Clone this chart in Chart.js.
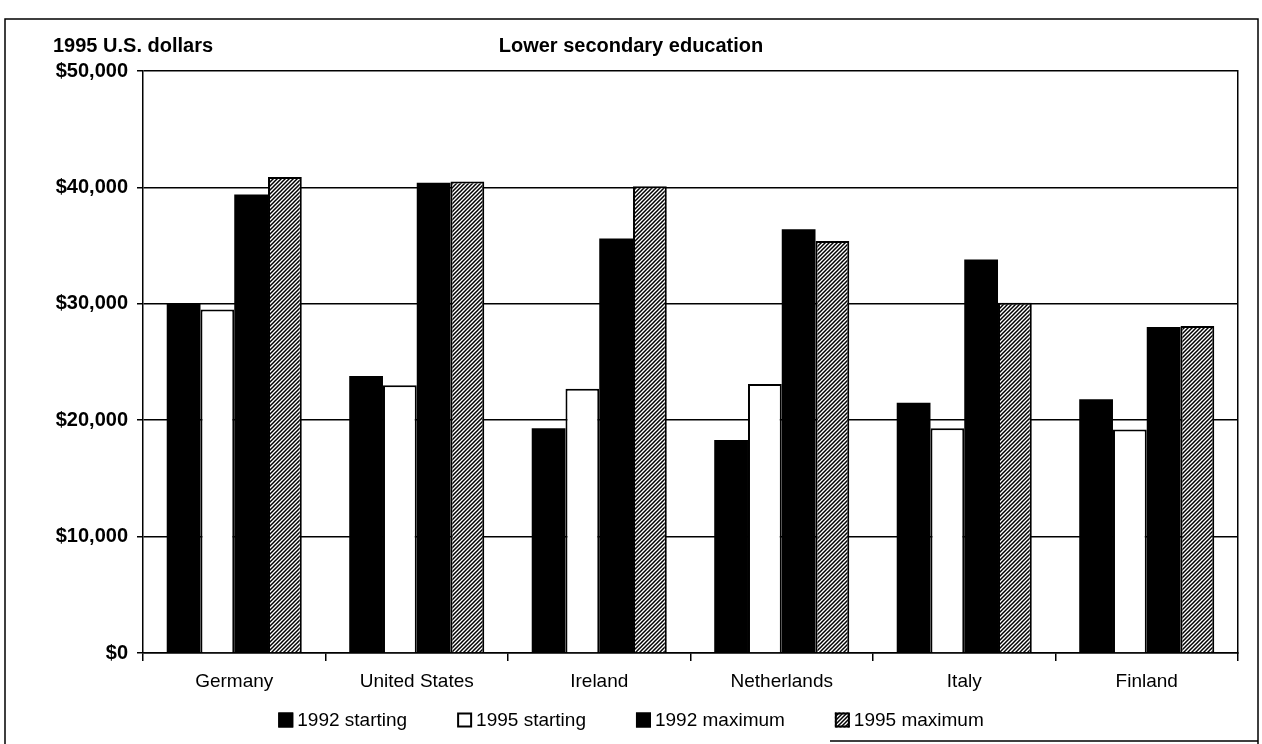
<!DOCTYPE html>
<html><head><meta charset="utf-8">
<script src="https://cdn.jsdelivr.net/npm/chart.js@4/dist/chart.umd.min.js"></script>
<style>html,body{margin:0;padding:0;background:#fff}#wrap{width:1262px;height:744px;position:relative}canvas{display:block}</style>
</head><body><div id="wrap"><canvas id="c" width="1262" height="744"></canvas></div>
<script>
const categories = ['Germany', 'United States', 'Ireland', 'Netherlands', 'Italy', 'Finland'];
const seriesNames = ['1992 starting', '1995 starting', '1992 maximum', '1995 maximum'];
const start1992 = [30000, 23800, 19300, 18300, 21500, 21800];
const start1995 = [29500, 23000, 22700, 23100, 19300, 19200];
const max1992 = [39400, 40400, 35600, 36400, 33800, 28000];
const max1995 = [40900, 40500, 40100, 35400, 30100, 28100];
const yMin = 0, yMax = 50000, yStep = 10000;
const unitLabel = '1995 U.S. dollars';
const chartTitle = 'Lower secondary education';

const FONT = '"Liberation Sans", Arial, Helvetica, sans-serif';

function makeHatch() {
  const s = 4;
  const c = document.createElement('canvas');
  c.width = s; c.height = s;
  const x = c.getContext('2d');
  x.fillStyle = '#fff'; x.fillRect(0, 0, s, s);
  x.strokeStyle = '#000'; x.lineWidth = 1.5;
  x.beginPath();
  x.moveTo(-1, s + 1); x.lineTo(s + 1, -1);
  x.moveTo(-s / 2 - 1, s / 2 + 1); x.lineTo(s / 2 + 1, -s / 2 - 1);
  x.moveTo(s / 2 - 1, s * 1.5 + 1); x.lineTo(s * 1.5 + 1, s / 2 - 1);
  x.stroke();
  return x.createPattern(c, 'repeat');
}
const hatch = makeHatch();

const frameAndLegend = {
  id: 'frameAndLegend',
  beforeDraw(chart) {
    const ctx = chart.ctx;
    ctx.save();
    ctx.fillStyle = '#fff';
    ctx.fillRect(0, 0, chart.width, chart.height);
    ctx.restore();
  },
  afterDraw(chart) {
    const ctx = chart.ctx;
    ctx.save();
    ctx.strokeStyle = '#000';
    ctx.lineWidth = 1.5;
    ctx.beginPath();
    ctx.moveTo(5, 744); ctx.lineTo(5, 19); ctx.lineTo(1258, 19); ctx.lineTo(1258, 744);
    ctx.moveTo(830, 741); ctx.lineTo(1258, 741);
    ctx.stroke();
    ctx.fillStyle = '#000';
    ctx.font = 'bold 20px ' + FONT;
    ctx.textAlign = 'left';
    ctx.textBaseline = 'middle';
    ctx.fillText(unitLabel, 53, 46);
    const ds = chart.data.datasets;
    ctx.font = '19px ' + FONT;
    const box = 15, gap = 4, itemGap = 50;
    const widths = ds.map(d => box + gap + ctx.measureText(d.label).width);
    const total = widths.reduce((a, b) => a + b, 0) + itemGap * (ds.length - 1);
    let x = chart.width / 2 - total / 2;
    const yc = 720;
    ds.forEach((d, i) => {
      ctx.fillStyle = d.backgroundColor;
      ctx.fillRect(x, yc - box / 2, box, box);
      ctx.strokeStyle = '#000';
      ctx.lineWidth = 2;
      ctx.strokeRect(x + 1, yc - box / 2 + 1, box - 2, box - 2);
      ctx.fillStyle = '#000';
      ctx.textBaseline = 'middle';
      ctx.fillText(d.label, x + box + gap, yc + 1);
      x += widths[i] + itemGap;
    });
    ctx.restore();
  }
};

new Chart(document.getElementById('c'), {
  type: 'bar',
  data: {
    labels: categories,
    datasets: [
      { label: seriesNames[0], data: start1992, backgroundColor: '#000', borderColor: '#000', borderWidth: 0 },
      { label: seriesNames[1], data: start1995, backgroundColor: '#fff', borderColor: '#000', borderWidth: 2 },
      { label: seriesNames[2], data: max1992, backgroundColor: '#000', borderColor: '#000', borderWidth: 0 },
      { label: seriesNames[3], data: max1995, backgroundColor: hatch, borderColor: '#000', borderWidth: 2 }
    ]
  },
  options: {
    responsive: false,
    animation: false,
    devicePixelRatio: 1,
    categoryPercentage: 0.74,
    barPercentage: 1.0,
    layout: { padding: { left: 0, right: 0, top: 0, bottom: 51 } },
    plugins: {
      legend: { display: false },
      tooltip: { enabled: false },
      title: {
        display: true,
        text: chartTitle,
        color: '#000',
        font: { family: FONT, size: 20, weight: 'bold' },
        padding: { top: 34, bottom: 13 }
      }
    },
    scales: {
      x: {
        offset: true,
        grid: { display: true, drawOnChartArea: false, drawTicks: true, tickLength: 8, color: '#000', lineWidth: 1.5, offset: true },
        border: { display: true, color: '#000', width: 1.5 },
        ticks: { color: '#000', font: { family: FONT, size: 19 }, padding: 9, maxRotation: 0, autoSkip: false },
        afterFit(scale) { scale.height = 40; }
      },
      y: {
        min: yMin, max: yMax,
        ticks: {
          stepSize: yStep, color: '#000', padding: 9,
          font: { family: FONT, size: 20, weight: 'bold' },
          callback: v => '$' + Number(v).toLocaleString('en-US')
        },
        grid: { color: '#000', lineWidth: 1.5, tickLength: 6, drawTicks: true },
        border: { display: true, color: '#000', width: 1.5 },
        afterFit(scale) { scale.width = 143; }
      },
      y1: {
        position: 'right',
        min: yMin, max: yMax,
        ticks: { display: false },
        grid: { display: false, drawOnChartArea: false },
        border: { display: true, color: '#000', width: 1.5 },
        afterFit(scale) { scale.width = 24; }
      }
    }
  },
  plugins: [frameAndLegend]
});
</script>
</body></html>
